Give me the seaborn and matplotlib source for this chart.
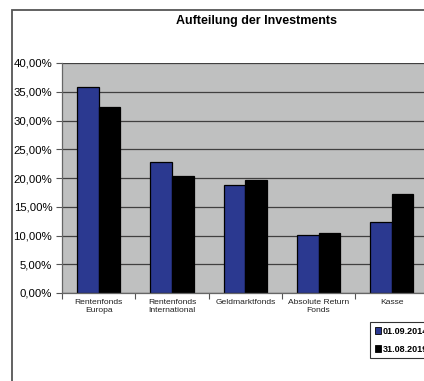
import matplotlib
matplotlib.use("Agg")
import matplotlib.pyplot as plt
from matplotlib.patches import Patch, Rectangle
from matplotlib.ticker import FixedLocator
import seaborn as sns
import pandas as pd

categories = ["Rentenfonds\nEuropa", "Rentenfonds\nInternational", "Geldmarktfonds",
              "Absolute Return\nFonds", "Kasse"]
series_names = ["01.09.2014", "31.08.2019"]
values_2014 = [35.8, 22.8, 18.8, 10.1, 12.4]
values_2019 = [32.3, 20.4, 19.7, 10.4, 17.2]
y_ticks = [0, 5, 10, 15, 20, 25, 30, 35, 40]
y_tick_labels = ["0,00%", "5,00%", "10,00%", "15,00%", "20,00%", "25,00%",
                 "30,00%", "35,00%", "40,00%"]
title = "Aufteilung der Investments"
colors = ["#2b3990", "#000000"]

plt.rcParams["font.family"] = ["Liberation Sans", "DejaVu Sans"]

df = pd.DataFrame({
    "Kategorie": categories * 2,
    "Wert": values_2014 + values_2019,
    "Serie": [series_names[0]] * len(categories) + [series_names[1]] * len(categories),
})

W, H = 424, 381
fig = plt.figure(figsize=(W / 100, H / 100), dpi=100)
ax = fig.add_axes([62 / W, (H - 293) / H, 5 * 73.3 / W, 230 / H])

sns.barplot(data=df, x="Kategorie", y="Wert", hue="Serie", order=categories,
            hue_order=series_names, palette=colors, width=0.59, gap=0,
            edgecolor="black", linewidth=0.9, saturation=1, ax=ax, legend=False)

ax.set_facecolor("#bfc0c0")
ax.set_ylim(0, 40)
ax.set_xlim(-0.5, 4.5)
ax.set_yticks(y_ticks)
ax.set_yticklabels(y_tick_labels, fontsize=8.2)
ax.set_xlabel("")
ax.set_ylabel("")
ax.set_axisbelow(True)
ax.yaxis.grid(True, color="#404040", linewidth=0.9)
ax.xaxis.grid(False)
ax.tick_params(axis="y", length=4, width=0.8, color="#555555", pad=3)
ax.tick_params(axis="x", which="major", length=0, labelsize=6.1, pad=4,
               labelcolor="#222222")
ax.xaxis.set_minor_locator(FixedLocator([-0.5, 0.5, 1.5, 2.5, 3.5, 4.5]))
ax.tick_params(axis="x", which="minor", length=4, width=0.8, color="#555555")
for s in ["top", "right"]:
    ax.spines[s].set_visible(False)
for s in ["left", "bottom"]:
    ax.spines[s].set_color("#666666")
    ax.spines[s].set_linewidth(0.9)

fig.text(256 / W, 1 - 21 / H, title, ha="center", va="center",
         fontsize=9, fontweight="bold")

# outer chart frame
fig.add_artist(Rectangle((11.5 / W, -0.1), 2, (H - 9.5) / H + 0.1,
                         transform=fig.transFigure, fill=False,
                         edgecolor="#555555", linewidth=1.3))

handles = [Patch(facecolor=c, edgecolor="black", linewidth=0.6) for c in colors]
leg = fig.legend(handles, series_names, loc="upper left",
                 bbox_to_anchor=(370 / W, 1 - 322 / H),
                 frameon=True, fancybox=False, edgecolor="black",
                 prop={"size": 6.5, "weight": "bold"},
                 handlelength=0.7, handleheight=0.7, handletextpad=0.2,
                 labelspacing=1.0, borderpad=0.5, borderaxespad=0)
leg.get_frame().set_linewidth(0.8)

fig.savefig("out.png", dpi=100)
